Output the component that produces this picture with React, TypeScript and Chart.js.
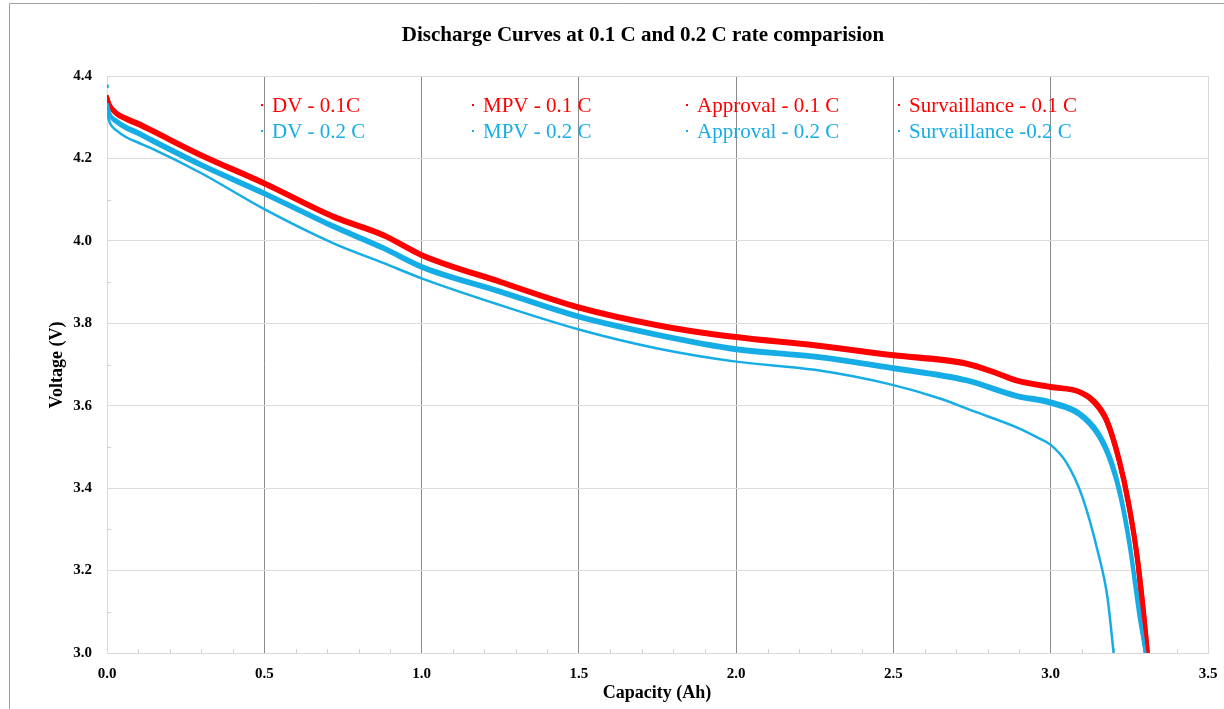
import React, { useEffect, useRef } from "react";
import { Chart, registerables } from "chart.js";

Chart.register(...registerables);

// ---------- DATA ----------
const titleText = "Discharge Curves at 0.1 C and 0.2 C rate comparision";
const xAxisTitle = "Capacity (Ah)";
const yAxisTitle = "Voltage (V)";
const xTicks = [0, 0.5, 1.0, 1.5, 2.0, 2.5, 3.0, 3.5];
const yTicks = [3.0, 3.2, 3.4, 3.6, 3.8, 4.0, 4.2, 4.4];

// 0.1 C curves
const capRedA = [0, 0.01, 0.03, 0.06, 0.1, 0.14, 0.3, 0.5, 0.72, 0.88, 1.0, 1.25, 1.5, 1.75, 2.0, 2.25, 2.5, 2.73, 2.83, 2.89, 3.0, 3.09, 3.14, 3.18, 3.22, 3.25, 3.28, 3.3, 3.31];
const capRedB = [0, 0.01, 0.03, 0.06, 0.1, 0.14, 0.3, 0.5, 0.72, 0.88, 1.0, 1.25, 1.5, 1.75, 2.0, 2.25, 2.5, 2.73, 2.83, 2.89, 3.0, 3.09, 3.135, 3.175, 3.215, 3.245, 3.275, 3.292, 3.302];
const dv01 = [4.35, 4.328, 4.31, 4.297, 4.284, 4.269, 4.208, 4.14, 4.059, 4.014, 3.966, 3.901, 3.839, 3.796, 3.767, 3.747, 3.723, 3.703, 3.679, 3.662, 3.646, 3.634, 3.61, 3.565, 3.468, 3.363, 3.218, 3.08, 3.0];
const mpv01 = [4.346, 4.324, 4.306, 4.293, 4.28, 4.265, 4.204, 4.136, 4.055, 4.01, 3.962, 3.897, 3.835, 3.792, 3.763, 3.743, 3.719, 3.699, 3.675, 3.658, 3.642, 3.631, 3.607, 3.562, 3.465, 3.36, 3.215, 3.078, 3.0];
const approval01 = [4.353, 4.331, 4.313, 4.3, 4.287, 4.272, 4.211, 4.143, 4.062, 4.017, 3.969, 3.904, 3.842, 3.799, 3.77, 3.75, 3.726, 3.706, 3.682, 3.665, 3.649, 3.637, 3.613, 3.568, 3.471, 3.366, 3.221, 3.083, 3.0];
const surv01 = [4.348, 4.326, 4.308, 4.295, 4.282, 4.267, 4.206, 4.138, 4.057, 4.012, 3.964, 3.899, 3.837, 3.794, 3.765, 3.745, 3.721, 3.701, 3.677, 3.66, 3.644, 3.633, 3.609, 3.564, 3.467, 3.362, 3.217, 3.079, 3.0];

// 0.2 C curves
const capBlue = [0, 0.01, 0.03, 0.06, 0.1, 0.14, 0.3, 0.5, 0.72, 0.88, 1.0, 1.25, 1.5, 1.75, 2.0, 2.25, 2.5, 2.73, 2.89, 3.0, 3.09, 3.15, 3.19, 3.22, 3.25, 3.28, 3.3];
const capBlueMpv = [0, 0.001, 0.002, 0.01, 0.03, 0.06, 0.1, 0.14, 0.3, 0.5, 0.72, 0.88, 1.0, 1.25, 1.5, 1.75, 2.0, 2.25, 2.5, 2.73, 2.89, 3.0, 3.09, 3.15, 3.19, 3.22, 3.25, 3.28, 3.3];
const dv02 = [4.33, 4.305, 4.29, 4.275, 4.261, 4.245, 4.184, 4.115, 4.035, 3.982, 3.937, 3.877, 3.816, 3.772, 3.737, 3.719, 3.691, 3.662, 3.624, 3.608, 3.582, 3.533, 3.468, 3.388, 3.267, 3.104, 3.0];
const mpv02 = [4.375, null, 4.334, 4.309, 4.294, 4.279, 4.265, 4.249, 4.188, 4.119, 4.039, 3.986, 3.941, 3.881, 3.82, 3.776, 3.741, 3.723, 3.695, 3.666, 3.628, 3.612, 3.586, 3.54, 3.478, 3.4, 3.282, 3.12, 3.0];
const approval02 = [4.326, 4.301, 4.286, 4.271, 4.257, 4.241, 4.18, 4.111, 4.031, 3.978, 3.933, 3.873, 3.812, 3.768, 3.733, 3.715, 3.687, 3.658, 3.62, 3.603, 3.576, 3.525, 3.458, 3.376, 3.252, 3.088, 3.0];
const capBlueLow = [0, 0.01, 0.03, 0.06, 0.1, 0.14, 0.3, 0.5, 0.72, 0.88, 1.0, 1.25, 1.5, 1.75, 2.0, 2.25, 2.5, 2.65, 2.75, 2.89, 2.96, 3.0, 3.05, 3.1, 3.15, 3.18, 3.2];
const surv02 = [4.31, 4.285, 4.268, 4.252, 4.238, 4.225, 4.164, 4.077, 3.994, 3.946, 3.909, 3.844, 3.785, 3.739, 3.707, 3.687, 3.65, 3.617, 3.588, 3.548, 3.522, 3.505, 3.462, 3.38, 3.245, 3.137, 3.0];

const legendTop = ["DV - 0.1C", "MPV - 0.1 C", "Approval - 0.1 C", "Survaillance - 0.1 C"];
const legendBottom = ["DV - 0.2 C", "MPV - 0.2 C", "Approval - 0.2 C", "Survaillance -0.2 C"];

// ---------- STYLE ----------
const RED = "#ff0000";
const BLUE = "#16ade6";
const SERIF = "'Liberation Serif', 'Times New Roman', serif";

function pts(xs: number[], ys: (number | null)[]) {
  return xs.map((x, i) => ({ x, y: ys[i] }));
}

const decor = {
  id: "decor",
  beforeDraw(chart: any) {
    const ctx = chart.ctx;
    ctx.save();
    ctx.fillStyle = "#ffffff";
    ctx.fillRect(0, 0, chart.width, chart.height);
    ctx.restore();
  },
  beforeDatasetsDraw(chart: any) {
    const ctx = chart.ctx;
    const xs = chart.scales.x;
    const ys = chart.scales.y;
    const { left, bottom } = chart.chartArea;
    ctx.save();
    ctx.strokeStyle = "#d0d0d0";
    ctx.lineWidth = 1;
    ctx.beginPath();
    for (let i = 1; i < 35; i++) {
      if (i % 5 === 0) continue;
      const px = Math.round(xs.getPixelForValue(i / 10)) + 0.5;
      ctx.moveTo(px, bottom);
      ctx.lineTo(px, bottom - 4);
    }
    for (let i = 1; i < 14; i += 2) {
      const py = Math.round(ys.getPixelForValue(3 + i / 10)) + 0.5;
      ctx.moveTo(left, py);
      ctx.lineTo(left + 4, py);
    }
    ctx.stroke();
    ctx.restore();
  },
  afterDatasetsDraw(chart: any) {
    const ctx = chart.ctx;
    const { left } = chart.chartArea;
    ctx.save();
    // frame
    ctx.strokeStyle = "#a0a0a0";
    ctx.lineWidth = 1;
    ctx.beginPath();
    ctx.moveTo(9.5, 720);
    ctx.lineTo(9.5, 3.5);
    ctx.lineTo(1240, 3.5);
    ctx.stroke();

    // title
    ctx.fillStyle = "#000000";
    ctx.font = `bold 21px ${SERIF}`;
    ctx.textAlign = "center";
    ctx.textBaseline = "middle";
    ctx.fillText(titleText, 643, 36);

    // axis titles
    ctx.font = `bold 18px ${SERIF}`;
    ctx.fillText(xAxisTitle, 657, 693);
    ctx.save();
    ctx.translate(57, 365);
    ctx.rotate(-Math.PI / 2);
    ctx.fillText(yAxisTitle, 0, 0);
    ctx.restore();

    // legend
    const colX = [155, 366, 580, 792];
    const rows = [
      { labels: legendTop, color: RED, y: 105 },
      { labels: legendBottom, color: BLUE, y: 131 },
    ];
    ctx.font = `21px ${SERIF}`;
    ctx.textAlign = "left";
    ctx.textBaseline = "middle";
    rows.forEach((r) => {
      r.labels.forEach((lab, i) => {
        const mx = left + colX[i];
        ctx.fillStyle = r.color;
        ctx.fillRect(mx - 1, r.y - 1, 2, 2);
        ctx.fillText(lab, mx + 10, r.y + 1);
      });
    });
    ctx.restore();
  },
};

export default function App() {
  const ref = useRef<HTMLCanvasElement | null>(null);

  useEffect(() => {
    if (!ref.current) return;
    const common = {
      showLine: true,
      pointRadius: 0,
      pointHoverRadius: 0,
      cubicInterpolationMode: "monotone" as const,
      fill: false,
    };
    const chart = new Chart(ref.current, {
      type: "scatter",
      data: {
        datasets: [
          { ...common, label: legendBottom[0], data: pts(capBlue, dv02), borderColor: BLUE, backgroundColor: BLUE, borderWidth: 2.6 },
          {
            ...common,
            label: legendBottom[1],
            data: pts(capBlueMpv, mpv02),
            borderColor: BLUE,
            backgroundColor: BLUE,
            borderWidth: 2.6,
            spanGaps: false,
            pointRadius: (c: any) => (c.dataIndex === 0 ? 2 : 0),
            pointBorderWidth: 0,
          },
          { ...common, label: legendBottom[2], data: pts(capBlue, approval02), borderColor: BLUE, backgroundColor: BLUE, borderWidth: 2.6 },
          { ...common, label: legendBottom[3], data: pts(capBlueLow, surv02), borderColor: BLUE, backgroundColor: BLUE, borderWidth: 2.5 },
          { ...common, label: legendTop[0], data: pts(capRedA, dv01), borderColor: RED, backgroundColor: RED, borderWidth: 3.2 },
          { ...common, label: legendTop[1], data: pts(capRedB, mpv01), borderColor: RED, backgroundColor: RED, borderWidth: 3.2 },
          { ...common, label: legendTop[2], data: pts(capRedA, approval01), borderColor: RED, backgroundColor: RED, borderWidth: 3.2 },
          { ...common, label: legendTop[3], data: pts(capRedB, surv01), borderColor: RED, backgroundColor: RED, borderWidth: 3.2 },
        ],
      },
      options: {
        animation: false,
        responsive: true,
        maintainAspectRatio: false,
        layout: { padding: { left: 0, top: 76, right: 16, bottom: 0 } },
        plugins: {
          legend: { display: false },
          title: { display: false },
          tooltip: { enabled: false },
        },
        scales: {
          x: {
            type: "linear",
            min: xTicks[0],
            max: xTicks[xTicks.length - 1],
            afterFit: (s: any) => {
              s.height = 56;
              s.paddingLeft = 0;
              s.paddingRight = 0;
            },
            afterBuildTicks: (s: any) => {
              s.ticks = xTicks.map((v) => ({ value: v }));
            },
            ticks: {
              padding: 12,
              color: "#000000",
              font: { family: SERIF, size: 15, weight: "bold" },
              callback: (v: any) => Number(v).toFixed(1),
              maxRotation: 0,
              autoSkip: false,
            },
            grid: {
              drawTicks: false,
              color: (c: any) => {
                const v = c.tick ? c.tick.value : 0;
                return v === 0 || v === 3.5 ? "#d9d9d9" : "#8a8a8a";
              },
              lineWidth: 1,
            },
            border: { display: true, color: "#d9d9d9", width: 1 },
          },
          y: {
            type: "linear",
            min: yTicks[0],
            max: yTicks[yTicks.length - 1],
            afterFit: (s: any) => {
              s.width = 107;
              s.paddingTop = 0;
              s.paddingBottom = 0;
            },
            afterBuildTicks: (s: any) => {
              s.ticks = yTicks.map((v) => ({ value: v }));
            },
            ticks: {
              padding: 15,
              color: "#000000",
              font: { family: SERIF, size: 15, weight: "bold" },
              callback: (v: any) => Number(v).toFixed(1),
              autoSkip: false,
            },
            grid: { drawTicks: false, color: "#dcdcdc", lineWidth: 1 },
            border: { display: true, color: "#d9d9d9", width: 1 },
          },
        },
      },
      plugins: [decor],
    } as any);
    return () => chart.destroy();
  }, []);

  return (
    <div style={{ position: "fixed", left: 0, top: 0, width: 1224, height: 709, background: "#fff" }}>
      <canvas ref={ref} />
    </div>
  );
}
